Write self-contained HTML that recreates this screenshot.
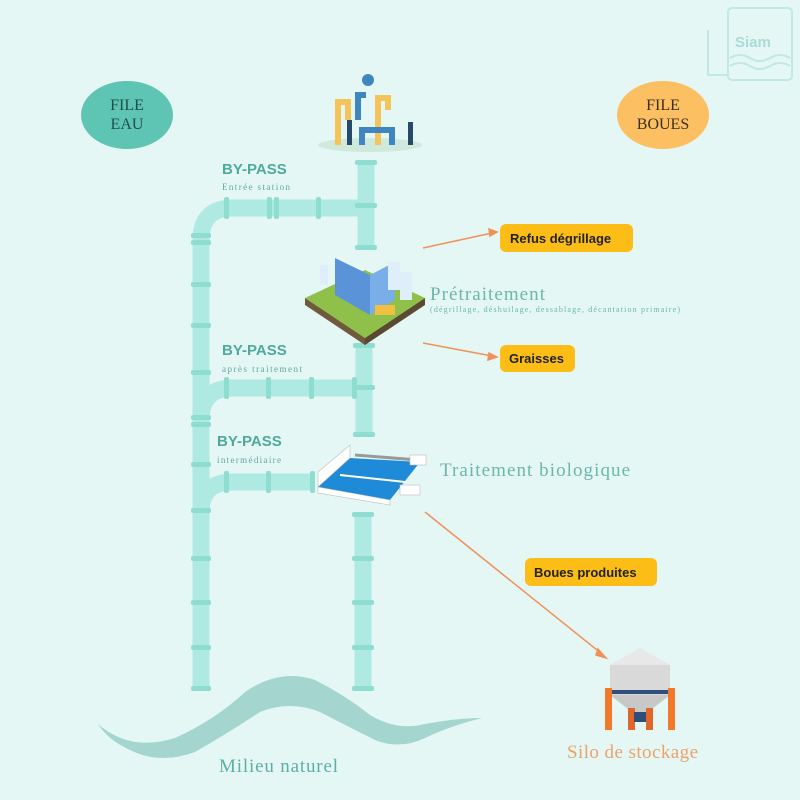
<!DOCTYPE html>
<html><head><meta charset="utf-8"><style>
html,body{margin:0;padding:0;background:#e4f7f5;}
svg{display:block}
.s{font-family:"Liberation Sans",sans-serif}
.f{font-family:"Liberation Serif",serif}
</style></head><body>
<svg width="800" height="800" viewBox="0 0 800 800" xmlns="http://www.w3.org/2000/svg">
<rect width="800" height="800" fill="#e4f7f5"/>
<g opacity="0.35" stroke="#7fcfc6" fill="none" stroke-width="2">
<rect x="728" y="8" width="64" height="72" rx="4"/>
<path d="M708 30 v45 h20"/>
<path d="M730 58 q10 -6 20 0 t20 0 t20 0 M730 66 q10 -6 20 0 t20 0 t20 0"/>
</g>
<text x="735" y="47" font-size="15" fill="#a9dcd6" font-weight="bold" class="s">Siam</text>

<ellipse cx="127" cy="115" rx="46" ry="34" fill="#5ec4b3"/>
<text x="127" y="110" text-anchor="middle" class="f" font-size="16" fill="#1f4f4a">FILE</text>
<text x="127" y="129" text-anchor="middle" class="f" font-size="16" fill="#1f4f4a">EAU</text>
<ellipse cx="663" cy="115" rx="46" ry="34" fill="#fcc063"/>
<text x="663" y="110" text-anchor="middle" class="f" font-size="16" fill="#3b2f20">FILE</text>
<text x="663" y="129" text-anchor="middle" class="f" font-size="16" fill="#3b2f20">BOUES</text>

<g fill="none" stroke="#aee9e2" stroke-width="17">
<path d="M201 690 V240 Q201 208 233 208 H366"/>
<path d="M366 160 V248"/>
<path d="M201 420 Q201 388 233 388 H364"/>
<path d="M364 345 V435"/>
<path d="M201 512 Q201 482 233 482 H315"/>
<path d="M363 512 V690"/>
</g>
<g fill="#8fdcd1">
<rect x="191" y="233" width="20" height="5" rx="2"/><rect x="191" y="240" width="20" height="5" rx="2"/>
<rect x="191" y="282" width="20" height="5" rx="2"/>
<rect x="191" y="323" width="20" height="5" rx="2"/>
<rect x="191" y="370" width="20" height="5" rx="2"/>
<rect x="191" y="415" width="20" height="5" rx="2"/><rect x="191" y="422" width="20" height="5" rx="2"/>
<rect x="191" y="462" width="20" height="5" rx="2"/>
<rect x="191" y="508" width="20" height="5" rx="2"/>
<rect x="191" y="556" width="20" height="5" rx="2"/>
<rect x="191" y="600" width="20" height="5" rx="2"/>
<rect x="191" y="645" width="20" height="5" rx="2"/>
<rect x="191" y="686" width="20" height="5" rx="2"/>
<rect x="224" y="197" width="5" height="22" rx="2"/>
<rect x="267" y="197" width="5" height="22" rx="2"/><rect x="274" y="197" width="5" height="22" rx="2"/>
<rect x="316" y="197" width="5" height="22" rx="2"/>
<rect x="355" y="203" width="22" height="5" rx="2"/>
<rect x="355" y="160" width="22" height="5" rx="2"/>
<rect x="355" y="245" width="22" height="5" rx="2"/>
<rect x="224" y="377" width="5" height="22" rx="2"/>
<rect x="266" y="377" width="5" height="22" rx="2"/>
<rect x="309" y="377" width="5" height="22" rx="2"/>
<rect x="352" y="377" width="5" height="22" rx="2"/>
<rect x="353" y="343" width="22" height="5" rx="2"/>
<rect x="353" y="385" width="22" height="5" rx="2"/>
<rect x="353" y="432" width="22" height="5" rx="2"/>
<rect x="224" y="471" width="5" height="22" rx="2"/>
<rect x="266" y="471" width="5" height="22" rx="2"/>
<rect x="310" y="471" width="5" height="22" rx="2"/>
<rect x="352" y="512" width="22" height="5" rx="2"/>
<rect x="352" y="556" width="22" height="5" rx="2"/>
<rect x="352" y="600" width="22" height="5" rx="2"/>
<rect x="352" y="645" width="22" height="5" rx="2"/>
<rect x="352" y="686" width="22" height="5" rx="2"/>
</g>

<path d="M98 724 Q130 752 175 738 Q215 720 245 692 Q280 668 315 680 Q345 695 370 715 Q395 730 420 725 Q455 718 482 718 Q450 726 425 738 Q400 750 375 740 Q345 725 320 712 Q290 700 260 712 Q225 735 195 752 Q160 765 130 750 Q108 740 98 724 Z" fill="#a4d6cf"/>

<text x="222" y="174" font-size="15" font-weight="bold" fill="#4fa99c" class="s">BY-PASS</text>
<text x="222" y="190" font-size="9" class="f" fill="#5fa89e" textLength="68">Entrée station</text>
<text x="222" y="355" font-size="15" font-weight="bold" fill="#4fa99c" class="s">BY-PASS</text>
<text x="222" y="372" font-size="9" class="f" fill="#5fa89e" textLength="80">après traitement</text>
<text x="217" y="446" font-size="15" font-weight="bold" fill="#4fa99c" class="s">BY-PASS</text>
<text x="217" y="463" font-size="9" class="f" fill="#5fa89e" textLength="64">intermédiaire</text>

<ellipse cx="370" cy="145" rx="52" ry="7" fill="#cfe9dc"/>
<g fill="none" stroke="#f4c45a" stroke-width="6"><path d="M338 145 V102 h10 V120"/><path d="M378 145 V98 h10 V110"/></g>
<g fill="none" stroke="#3f86c0" stroke-width="6"><path d="M362 145 V130 h30 V145"/><path d="M358 120 V95 h8"/></g>
<circle cx="368" cy="80" r="6" fill="#3f86c0"/>
<rect x="347" y="120" width="5" height="25" fill="#284a6a"/><rect x="408" y="122" width="5" height="23" fill="#284a6a"/>

<path d="M305 298 L365 270 L425 298 L365 338 Z" fill="#8fc14a"/>
<path d="M305 298 L365 338 L365 345 L305 305 Z" fill="#6f5a3b"/>
<path d="M425 298 L365 338 L365 345 L425 305 Z" fill="#5a4a30"/>
<path d="M335 295 L370 315 L370 275 L335 258 Z" fill="#5b93d8"/>
<path d="M370 315 L395 300 L395 262 L370 275 Z" fill="#7aaee8"/>
<rect x="388" y="262" width="12" height="28" fill="#dfeefb"/><rect x="400" y="272" width="12" height="28" fill="#dfeefb"/>
<rect x="320" y="265" width="8" height="20" fill="#dfeefb"/>
<rect x="375" y="305" width="20" height="10" fill="#f0c040"/>

<path d="M318 487 L350 458 L420 462 L390 500 Z" fill="#1f8ad8"/>
<path d="M318 487 L350 458 L350 445 L318 472 Z" fill="#fff" stroke="#bbb" stroke-width="0.6"/>
<path d="M318 487 L390 500 L390 505 L318 493 Z" fill="#fff" stroke="#bbb" stroke-width="0.6"/>
<path d="M355 455 L418 460" stroke="#999" stroke-width="3"/>
<path d="M340 475 L405 482" stroke="#fff" stroke-width="2"/>
<rect x="410" y="455" width="16" height="10" fill="#fff" stroke="#bbb" stroke-width="0.6"/>
<rect x="400" y="485" width="20" height="10" fill="#fff" stroke="#bbb" stroke-width="0.6"/>

<text x="430" y="300" font-size="19" class="f" fill="#6cb7ab" textLength="115">Prétraitement</text>
<text x="430" y="312" font-size="8" class="f" fill="#6cb7ab" textLength="250">(dégrillage, déshuilage, dessablage, décantation primaire)</text>
<text x="440" y="476" font-size="19" class="f" fill="#6cb7ab" textLength="190">Traitement biologique</text>

<g stroke="#f0915a" stroke-width="1.5" fill="#f0915a">
<line x1="423" y1="248" x2="492" y2="233"/><path d="M497 232 L489 229 L490 236 Z"/>
<line x1="423" y1="343" x2="492" y2="356"/><path d="M497 357 L489 353 L488 360 Z"/>
<line x1="425" y1="512" x2="602" y2="654"/><path d="M606 658 L598 649 L596 655 Z"/>
</g>
<g font-size="13" font-weight="bold" fill="#222" class="s">
<rect x="500" y="224" width="133" height="28" rx="6" fill="#fbbd16"/>
<text x="510" y="243">Refus dégrillage</text>
<rect x="500" y="345" width="75" height="27" rx="6" fill="#fbbd16"/>
<text x="509" y="363">Graisses</text>
<rect x="525" y="558" width="132" height="28" rx="6" fill="#fbbd16"/>
<text x="534" y="577">Boues produites</text>
</g>

<path d="M610 665 L640 648 L670 665 Z" fill="#e8e8e8"/>
<rect x="610" y="665" width="60" height="30" fill="#d9d9d9"/>
<path d="M610 695 L670 695 L648 712 L632 712 Z" fill="#c8c8c8"/>
<rect x="606" y="690" width="68" height="4" fill="#2f4f7a"/>
<rect x="605" y="688" width="7" height="42" fill="#f07a2a"/>
<rect x="668" y="688" width="7" height="42" fill="#f07a2a"/>
<rect x="628" y="708" width="7" height="22" fill="#e0662a"/>
<rect x="646" y="708" width="7" height="22" fill="#e0662a"/>
<rect x="634" y="712" width="12" height="10" fill="#2f4f7a"/>

<text x="567" y="758" font-size="19" class="f" fill="#eba36b" textLength="131">Silo de stockage</text>
<text x="219" y="772" font-size="19" class="f" fill="#5eaea3" textLength="119">Milieu naturel</text>
</svg>
</body></html>
